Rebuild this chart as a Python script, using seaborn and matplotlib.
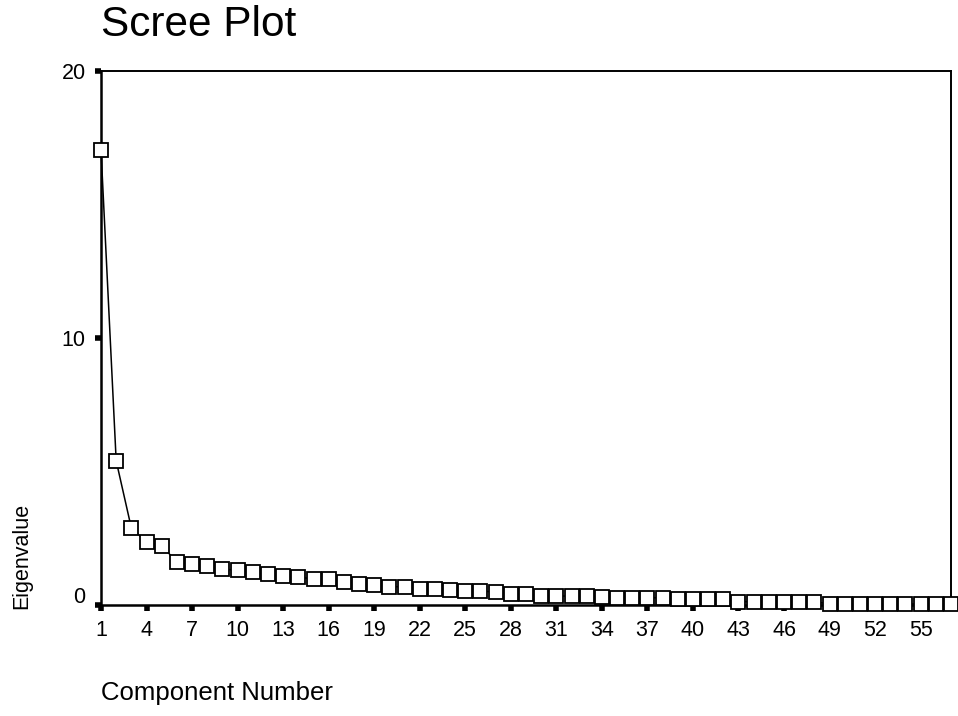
import matplotlib
matplotlib.use("Agg")
import matplotlib.pyplot as plt
import matplotlib.transforms as mtransforms
import numpy as np
import pandas as pd
import seaborn as sns

# ---- data ----
component = list(range(1, 58))
eigenvalue = [
    17.05, 5.40, 2.88, 2.36, 2.22, 1.61, 1.55, 1.45, 1.33, 1.32,
    1.22, 1.16, 1.08, 1.04, 0.98, 0.96, 0.88, 0.80, 0.75, 0.69,
    0.68, 0.60, 0.59, 0.58, 0.52, 0.51, 0.50, 0.42, 0.41, 0.35,
    0.34, 0.33, 0.32, 0.31, 0.28, 0.28, 0.27, 0.27, 0.23, 0.22,
    0.22, 0.21, 0.13, 0.12, 0.12, 0.12, 0.11, 0.11, 0.05, 0.05,
    0.05, 0.04, 0.04, 0.04, 0.04, 0.03, 0.03,
]
x_ticks = list(range(1, 56, 3))
y_ticks = [0, 10, 20]
title = "Scree Plot"
x_label = "Component Number"
y_label = "Eigenvalue"

sns.set_style("ticks")
plt.rcParams['font.family'] = ['Liberation Sans', 'DejaVu Sans']
plt.rcParams['text.color'] = 'black'
plt.rcParams['xtick.color'] = 'black'
plt.rcParams['ytick.color'] = 'black'
plt.rcParams['xtick.labelcolor'] = 'black'
plt.rcParams['ytick.labelcolor'] = 'black'

W, H = 958, 716
fig = plt.figure(figsize=(W / 100, H / 100), dpi=100)
left, right, top, bottom = 101, 951, 71, 605
ax = fig.add_axes([left / W, 1 - bottom / H, (right - left) / W, (bottom - top) / H])

df = pd.DataFrame({"Component Number": component, "Eigenvalue": eigenvalue})
sns.lineplot(data=df, x="Component Number", y="Eigenvalue", ax=ax,
             color="black", linewidth=1.1, marker="s", markersize=10,
             markerfacecolor="white", markeredgecolor="black",
             markeredgewidth=1.3, clip_on=False, zorder=3)

ax.set_xlim(1, 57)
ax.set_ylim(0, 20)
ax.set_xticks(x_ticks)
ax.set_yticks(y_ticks)
ax.set_xlabel("")
ax.set_ylabel("")
ax.tick_params(direction="out", length=4, width=4, labelsize=15.5, pad=7,
               color="black", labelcolor="black")
for s in ["left", "bottom"]:
    ax.spines[s].set_linewidth(1.8)
for s in ["top", "right"]:
    ax.spines[s].set_linewidth(1.4)
for s in ax.spines.values():
    s.set_color("black")

# the "0" label sits a little above its tick in the reference
fig.canvas.draw()
for lab in ax.get_yticklabels():
    if lab.get_text() == "0":
        lab.set_transform(lab.get_transform() +
                          mtransforms.ScaledTranslation(0, 10 / 100, fig.dpi_scale_trans))

fig.text(left / W, 1 - 25 / H, title, fontsize=30.5, ha="left", va="center", color="black")
fig.text(left / W, 1 - 693 / H, x_label, fontsize=18.5, ha="left", va="center", color="black")
fig.text(22 / W, 1 - 556 / H, y_label, fontsize=15.5, ha="center", va="center",
         rotation=90, color="black")

fig.savefig("out.png", dpi=100, facecolor="white")
